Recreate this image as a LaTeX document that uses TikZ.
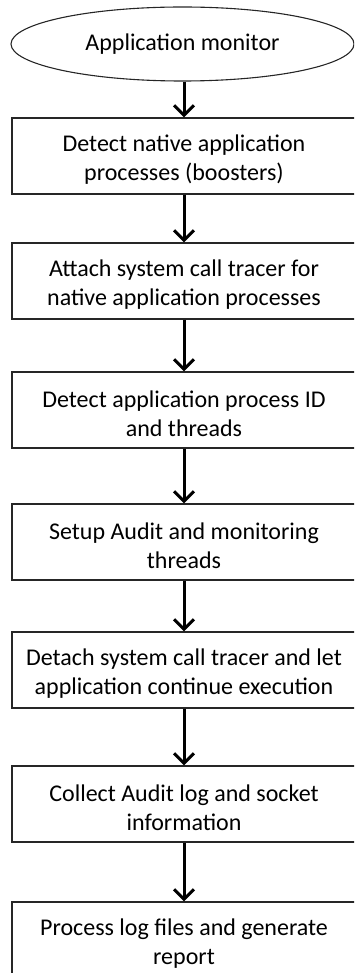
\documentclass[tikz,border=0pt]{standalone}
\usepackage{fontspec}
\setmainfont{Carlito}
\usetikzlibrary{arrows.meta,shapes.geometric}
\begin{document}
\begin{tikzpicture}[x=1pt,y=-1pt,
  txt/.style={font=\fontsize{24}{29}\selectfont, align=center},
  stepbox/.style={draw=black!85, line width=1.2pt, minimum width=344pt, minimum height=76pt, inner sep=0pt},
  boxtext/.style={label={[txt,yshift=-4pt]center:#1}},
  startnode/.style={txt, ellipse, draw=black!85, line width=1.1pt, minimum width=343pt, minimum height=74pt, inner sep=0pt},
  flow/.style={line width=3pt, -{Straight Barb[length=10pt,width=20pt,line width=3pt]}}]
\useasboundingbox (0,0) rectangle (354,973);
\clip (0,0) rectangle (354,973);
\node[startnode] (s) at (182.5,44) {\raisebox{-3pt}{Application monitor}};
\node[stepbox, boxtext={Detect native application\\processes (boosters)}] (b1) at (184,156) {};
\node[stepbox, boxtext={Attach system call tracer for\\native application processes}] (b2) at (184,281) {};
\node[stepbox, boxtext={Detect application process ID\\and threads}] (b3) at (184,410) {};
\node[stepbox, boxtext={Setup Audit and monitoring\\threads}] (b4) at (184,542) {};
\node[stepbox, boxtext={Detach system call tracer and let\\application continue execution}] (b5) at (184,670) {};
\node[stepbox, boxtext={Collect Audit log and socket\\information}] (b6) at (184,804) {};
\node[stepbox, boxtext={Process log files and generate\\report}] (b7) at (184,940) {};
\draw[flow] (s.south -| b1.north) -- (b1.north);
\draw[flow] (b1) -- (b2);
\draw[flow] (b2) -- (b3);
\draw[flow] (b3) -- (b4);
\draw[flow] (b4) -- (b5);
\draw[flow] (b5) -- (b6);
\draw[flow] (b6) -- (b7);
\end{tikzpicture}
\end{document}
